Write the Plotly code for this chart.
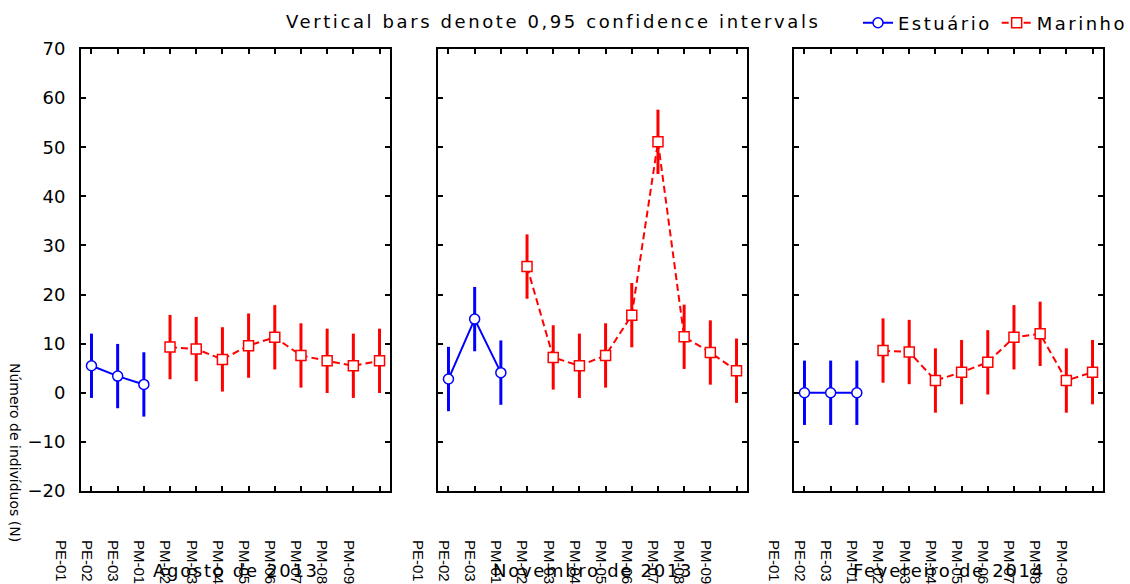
import plotly.graph_objects as go

# ---------------- data ----------------
sites = ["PE-01", "PE-02", "PE-03", "PM-01", "PM-02", "PM-03",
         "PM-04", "PM-05", "PM-06", "PM-07", "PM-08", "PM-09"]
estuario_sites = ["PE-01", "PE-02", "PE-03"]
marinho_sites = ["PM-01", "PM-02", "PM-03", "PM-04", "PM-05",
                 "PM-06", "PM-07", "PM-08", "PM-09"]
periods = ["Agosto de 2013", "Novembro de 2013", "Fevereiro de 2014"]

estuario_ago = [5.5, 3.4, 1.7]
marinho_ago = [9.3, 8.9, 6.8, 9.6, 11.3, 7.6, 6.5, 5.5, 6.5]
estuario_nov = [2.8, 15.0, 4.1]
marinho_nov = [25.7, 7.2, 5.5, 7.6, 15.8, 51.1, 11.4, 8.2, 4.5]
estuario_fev = [0.0, 0.0, 0.0]
marinho_fev = [8.6, 8.3, 2.5, 4.2, 6.2, 11.3, 12.0, 2.5, 4.2]

# half-widths of the 0.95 confidence intervals
ci_estuario = [6.55, 6.55, 6.55]
ci_marinho = [6.55, 6.55, 6.55, 6.55, 6.55, 6.55, 6.55, 6.55, 6.55]

estuario_means = [estuario_ago, estuario_nov, estuario_fev]
marinho_means = [marinho_ago, marinho_nov, marinho_fev]

title_text = "Vertical bars denote 0,95 confidence intervals"
y_title = "Número de indivíduos (N)"
legend_names = ["Estuário", "Marinho"]

# ---------------- figure ----------------
FONT = "DejaVu Sans"
TICKFONT = "Liberation Sans"
BLUE = "#0000FF"
RED = "#FF0000"

W, H = 1130, 584
ML, MR, MT, MB = 81, 27, 49, 93
PW = W - ML - MR
PH = H - MT - MB


def px_x(px):
    return (px - ML) / PW


def px_y(py):
    return (H - MB - py) / PH


def spaced(txt, sp):
    return "<span style='letter-spacing:%spx'>%s</span>" % (sp, txt)


domains = [[px_x(81), px_x(390)], [px_x(438), px_x(747)], [px_x(794), px_x(1103)]]

fig = go.Figure()

for i in range(3):
    sfx = "" if i == 0 else str(i + 1)
    fig.add_trace(go.Scatter(
        x=estuario_sites, y=estuario_means[i],
        mode="lines+markers", name=spaced(legend_names[0], 2.5),
        legendgroup="est", showlegend=(i == 0),
        line=dict(color=BLUE, width=2),
        marker=dict(symbol="circle", size=10, color="white",
                    line=dict(color=BLUE, width=1.5)),
        error_y=dict(type="data", array=ci_estuario, visible=True,
                     thickness=3, width=0, color=BLUE),
        xaxis="x" + sfx, yaxis="y" + sfx,
    ))
    fig.add_trace(go.Scatter(
        x=marinho_sites, y=marinho_means[i],
        mode="lines+markers", name=spaced(legend_names[1], 2.5),
        legendgroup="mar", showlegend=(i == 0),
        line=dict(color=RED, width=2, dash="7px,4px"),
        marker=dict(symbol="square", size=10, color="white",
                    line=dict(color=RED, width=1.5)),
        error_y=dict(type="data", array=ci_marinho, visible=True,
                     thickness=3, width=0, color=RED),
        xaxis="x" + sfx, yaxis="y" + sfx,
    ))

layout = dict(
    width=W, height=H,
    margin=dict(l=ML, r=MR, t=MT, b=MB, autoexpand=False),
    paper_bgcolor="white", plot_bgcolor="white",
    font=dict(family=FONT, size=18, color="black"),
    showlegend=True,
    legend=dict(orientation="h", x=px_x(1132), xanchor="right",
                y=px_y(23), yanchor="middle",
                font=dict(family=FONT, size=18, color="black"),
                bgcolor="rgba(0,0,0,0)", itemwidth=30,
                tracegroupgap=0),
)

for i in range(3):
    sfx = "" if i == 0 else str(i + 1)
    layout["xaxis" + sfx] = dict(
        domain=domains[i], anchor="y" + sfx,
        type="category", categoryorder="array", categoryarray=sites,
        range=[-0.4, 11.4],
        showline=True, linecolor="black", linewidth=2, mirror="ticks",
        ticks="inside", ticklen=5, tickwidth=1.5, tickcolor="black",
        tickangle=90, tickfont=dict(family=TICKFONT, size=15, color="black"),
        ticklabelshift=-31, ticklabelstandoff=44,
        showgrid=False, zeroline=False,
    )
    layout["yaxis" + sfx] = dict(
        domain=[0, 1], anchor="x" + sfx,
        range=[-20, 70], tick0=0, dtick=10,
        showline=True, linecolor="black", linewidth=2, mirror="ticks",
        ticks="inside", ticklen=5, tickwidth=1.5, tickcolor="black",
        showticklabels=(i == 0), ticklabelstandoff=10,
        tickfont=dict(family=FONT, size=18, color="black"),
        showgrid=False, zeroline=False,
    )

fig.update_layout(**layout)

annotations = [
    dict(text=spaced(title_text, 2.6), xref="paper", yref="paper",
         x=px_x(553), y=px_y(21), xanchor="center", yanchor="middle",
         showarrow=False, font=dict(family=FONT, size=18, color="black")),
    dict(text=y_title, xref="paper", yref="paper",
         x=px_x(15), y=px_y(452), xanchor="center", yanchor="middle",
         textangle=90, showarrow=False,
         font=dict(family=FONT, size=14, color="black")),
]
for i, p in enumerate(periods):
    annotations.append(dict(
        text=spaced(p, 1.7), xref="paper", yref="paper",
        x=(domains[i][0] + domains[i][1]) / 2, y=px_y(570),
        xanchor="center", yanchor="middle", showarrow=False,
        font=dict(family=FONT, size=18, color="black")))
fig.update_layout(annotations=annotations)

fig.write_html("out.html",
               config={"displayModeBar": False},
               post_script="document.body.style.margin='0px';"
                           "document.body.style.overflow='hidden';")
